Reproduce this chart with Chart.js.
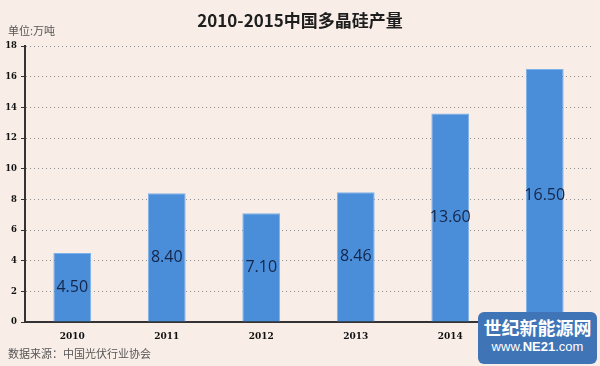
<!DOCTYPE html>
<html><head><meta charset="utf-8">
<script src="https://cdn.jsdelivr.net/npm/chart.js@4/dist/chart.umd.min.js"></script>
<style>
html,body{margin:0;padding:0;background:#f8eee7;}
#wrap{position:relative;width:600px;height:366px;overflow:hidden;}
canvas{position:absolute;left:0;top:0;}
.t{position:absolute;font-family:"Noto Sans CJK SC",sans-serif;white-space:nowrap;}
#title{left:0;width:600px;top:7px;text-align:center;font-size:17px;font-weight:bold;color:#1e1e1e;}
#unit{left:8px;top:22px;font-size:11px;color:#555;}
#src{left:8px;top:345px;font-size:11px;color:#555;}
#badge{position:absolute;left:478px;top:312px;width:119px;height:52px;background:#3f74b6;border-radius:6px;color:#fff;text-align:center;font-family:"Noto Sans CJK SC",sans-serif;}
#b1{font-size:18px;font-weight:bold;line-height:22px;margin-top:4px;}
#b2{font-size:13px;line-height:18px;font-family:"Liberation Sans",sans-serif;}
</style></head>
<body><div id="wrap">
<canvas id="c" width="600" height="366"></canvas>
<div class="t" id="title">2010-2015中国多晶硅产量</div>
<div class="t" id="unit">单位:万吨</div>
<div class="t" id="src">数据来源：中国光伏行业协会</div>
<div id="badge"><div id="b1">世纪新能源网</div><div id="b2">www.<b>NE21</b>.com</div></div>
</div>
<script>
const years = ["2010","2011","2012","2013","2014","2015"];
const output = [4.50, 8.40, 7.10, 8.46, 13.60, 16.50];
const yTicks = [0,2,4,6,8,10,12,14,16,18];

const labelPlugin = {
  id:'valLabels',
  afterDatasetsDraw(chart){
    const ctx = chart.ctx;
    const meta = chart.getDatasetMeta(0);
    ctx.save();
    ctx.font = '16px "Open Sans", sans-serif';
    ctx.fillStyle = '#14264a';
    ctx.textAlign = 'center';
    ctx.textBaseline = 'middle';
    meta.data.forEach((el,i)=>{
      const mid = (el.y + el.base)/2;
      ctx.fillText(output[i].toFixed(2), el.x, mid);
    });
    ctx.restore();
  }
};

new Chart(document.getElementById('c'), {
  type:'bar',
  data:{labels:years, datasets:[{data:output, backgroundColor:'#4a8dd8', borderColor:'#7cb2ea', borderWidth:1, borderSkipped:'bottom', barPercentage:0.4, categoryPercentage:1}]},
  options:{
    responsive:false, animation:false,
    layout:{padding:{top:46,right:8,bottom:24,left:0}},
    plugins:{legend:{display:false},tooltip:{enabled:false},title:{display:false}},
    scales:{
      x:{
        grid:{display:false, drawTicks:false},
        border:{color:'#333',width:2},
        ticks:{font:{family:'"DejaVu Serif", serif',weight:'bold',size:9},color:'#111',padding:9},
        afterFit(s){s.height=20;}
      },
      y:{
        min:0,max:18,
        afterBuildTicks(s){s.ticks = yTicks.map(v=>({value:v}));},
        grid:{color:'#8f8f8f',tickLength:4,drawOnChartArea:true,tickColor:'#333'},
        border:{color:'#333',width:2,dash:[1,3]},
        ticks:{font:{family:'"DejaVu Serif", serif',weight:'bold',size:8.5},color:'#111',padding:4},
        afterFit(s){s.width=25;}
      }
    }
  },
  plugins:[labelPlugin]
});
</script>
</body></html>
